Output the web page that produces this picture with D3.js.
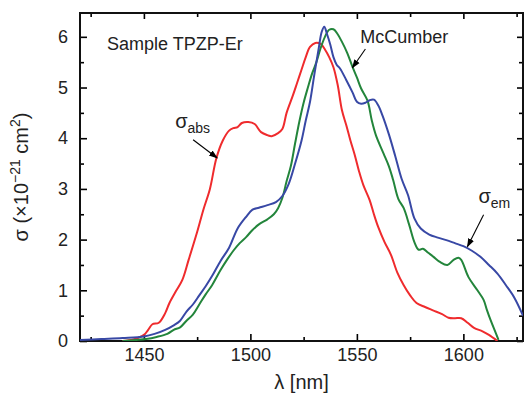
<!DOCTYPE html>
<html>
<head>
<meta charset="utf-8">
<script src="https://cdn.jsdelivr.net/npm/d3@7"></script>
<style>
  body { margin: 0; background: #fff; }
  text { font-family: "Liberation Sans", Arial, sans-serif; }
</style>
</head>
<body>
<svg id="chart" width="524" height="395"></svg>
<script>
// absorption cross-section (red)
var absX = [1440,1445,1450,1452,1454,1457,1460,1462,1465,1468,1471,1475,1478,1481,1484,1487,1490,1492,1494,1496,1499,1502,1505,1508,1510,1513,1515,1517,1520,1522,1524,1526,1528,1530.5,1533,1535,1537,1539,1541,1543,1545,1547,1549,1551,1553,1556,1558,1560,1563,1566,1569,1572,1575,1578,1582,1586,1590,1593,1596,1599,1602,1605,1609,1612,1616];
var absY = [0,0.03,0.12,0.22,0.33,0.36,0.55,0.75,0.98,1.2,1.6,2.15,2.6,3.0,3.6,3.95,4.15,4.2,4.22,4.3,4.32,4.28,4.12,4.06,4.04,4.1,4.18,4.5,4.85,5.1,5.35,5.6,5.8,5.88,5.86,5.75,5.6,5.4,5.05,4.55,4.26,3.95,3.67,3.35,3.08,2.78,2.5,2.25,1.95,1.7,1.35,1.1,0.9,0.75,0.67,0.6,0.53,0.46,0.45,0.45,0.36,0.26,0.19,0.12,0];

// McCumber (green)
var mcX = [1440,1446,1451,1456,1461,1464,1467,1470,1473,1476,1479,1482,1486,1489,1492,1495,1498,1501,1504,1508,1511,1513,1515,1517,1519,1521,1523,1525,1527,1529,1531,1533,1535,1537,1539,1541,1543,1545.5,1548,1550,1552,1555,1557,1559,1562.5,1565,1567,1569.5,1572,1574.5,1577,1579,1581,1583.5,1586,1589,1592.5,1595.4,1597.7,1599,1602.4,1606.6,1609.5,1611,1612.8,1615,1616.5];
var mcY = [0,0.02,0.04,0.08,0.14,0.22,0.27,0.4,0.52,0.72,0.92,1.1,1.4,1.6,1.78,1.93,2.05,2.19,2.3,2.4,2.5,2.62,2.82,3.15,3.45,3.9,4.33,4.7,5.0,5.28,5.5,5.78,6.0,6.14,6.15,6.05,5.9,5.68,5.4,5.2,4.98,4.74,4.35,4.05,3.7,3.45,3.18,2.8,2.62,2.3,1.95,1.8,1.82,1.74,1.66,1.56,1.5,1.6,1.64,1.6,1.26,1.0,0.81,0.62,0.41,0.18,0.02];

// emission cross-section (blue)
var emX = [1420,1430,1440,1450,1455,1460,1464,1467,1470,1473,1476,1479,1482,1486,1490,1494,1498,1501,1504,1508,1512,1515,1518,1521,1524,1526,1528,1530,1532,1533.5,1534.7,1536,1537.5,1539,1540.5,1542,1545,1548,1550,1552,1554,1556,1558,1560,1562,1565,1568,1571,1574,1577,1580,1584,1588,1592,1596,1600,1604,1608,1612,1616,1620,1624,1628];
var emY = [0.02,0.04,0.06,0.09,0.14,0.22,0.31,0.4,0.58,0.72,0.9,1.08,1.28,1.58,1.84,2.22,2.45,2.59,2.63,2.68,2.74,2.86,3.1,3.5,3.95,4.35,4.72,5.25,5.75,6.1,6.2,6.05,5.85,5.6,5.45,5.38,5.15,4.9,4.72,4.68,4.7,4.75,4.76,4.65,4.45,4.08,3.65,3.2,2.88,2.42,2.22,2.1,2.04,1.99,1.93,1.87,1.78,1.66,1.5,1.33,1.1,0.85,0.5];

var xTicks = [1450, 1500, 1550, 1600];
var yTicks = [0, 1, 2, 3, 4, 5, 6];

var svg = d3.select("#chart"),
    margin = {top: 13, right: 1, bottom: 54, left: 80},
    width = +svg.attr("width") - margin.left - margin.right,
    height = +svg.attr("height") - margin.top - margin.bottom,
    g = svg.append("g").attr("transform", "translate(" + margin.left + "," + margin.top + ")");

var x = d3.scaleLinear().domain([1420, 1628]).range([0, width]);
var y = d3.scaleLinear().domain([0, 6.47]).range([height, 0]);

var xMinor = d3.range(1425, 1628, 50);
var yMinor = d3.range(0.5, 6.5, 1);

function axisStyle(sel) {
  sel.select(".domain").remove();
  sel.selectAll("line").attr("stroke", "#000").attr("stroke-width", 1.6);
  sel.selectAll("text").attr("fill", "#222").style("font-size", "18px");
}

// bottom
g.append("g").attr("transform", "translate(0," + height + ")")
  .call(d3.axisBottom(x).tickValues(xTicks).tickFormat(d3.format("d")).tickSize(-7).tickPadding(7))
  .call(axisStyle);
g.append("g").attr("transform", "translate(0," + height + ")")
  .call(d3.axisBottom(x).tickValues(xMinor).tickFormat("").tickSize(-4))
  .call(axisStyle);
// top
g.append("g")
  .call(d3.axisTop(x).tickValues(xTicks).tickFormat("").tickSize(-6))
  .call(axisStyle);
g.append("g")
  .call(d3.axisTop(x).tickValues(xMinor).tickFormat("").tickSize(-4))
  .call(axisStyle);
// left
g.append("g")
  .call(d3.axisLeft(y).tickValues(yTicks).tickFormat(d3.format("d")).tickSize(-7).tickPadding(12))
  .call(axisStyle);
g.append("g")
  .call(d3.axisLeft(y).tickValues(yMinor).tickFormat("").tickSize(-4))
  .call(axisStyle);
// right
g.append("g").attr("transform", "translate(" + width + ",0)")
  .call(d3.axisRight(y).tickValues(yTicks).tickFormat("").tickSize(-6))
  .call(axisStyle);
g.append("g").attr("transform", "translate(" + width + ",0)")
  .call(d3.axisRight(y).tickValues(yMinor).tickFormat("").tickSize(-4))
  .call(axisStyle);

// frame
g.append("rect")
  .attr("width", width).attr("height", height)
  .attr("fill", "none").attr("stroke", "#111").attr("stroke-width", 2);

var line = d3.line()
  .curve(d3.curveCatmullRom.alpha(0.5))
  .x(function(d) { return x(d[0]); })
  .y(function(d) { return y(d[1]); });

var series = [
  {xs: absX, ys: absY, color: "#ef2b2d"},
  {xs: mcX, ys: mcY, color: "#23853b"},
  {xs: emX, ys: emY, color: "#3848a5"}
];

g.append("defs").append("clipPath").attr("id", "clip")
  .append("rect").attr("width", width).attr("height", height);

g.selectAll(".curve")
  .data(series)
  .enter().append("path")
  .attr("class", "curve")
  .attr("clip-path", "url(#clip)")
  .attr("fill", "none")
  .attr("stroke", function(d) { return d.color; })
  .attr("stroke-width", 2)
  .attr("stroke-linejoin", "round")
  .attr("d", function(d) { return line(d.xs.map(function(v, i) { return [v, d.ys[i]]; })); });

// arrows
svg.append("defs").append("marker")
  .attr("id", "head")
  .attr("viewBox", "0 0 10 10")
  .attr("refX", 9).attr("refY", 5)
  .attr("markerWidth", 9).attr("markerHeight", 9)
  .attr("markerUnits", "userSpaceOnUse")
  .attr("orient", "auto")
  .append("path").attr("d", "M0,1.5 L10,5 L0,8.5 z").attr("fill", "#000");

var arrows = [
  [1473.1, 3.97, 1484.4, 3.61],
  [1554.0, 5.76, 1547.9, 5.39],
  [1609.5, 2.49, 1601.9, 1.86]
];
g.selectAll(".arrow")
  .data(arrows)
  .enter().append("line")
  .attr("class", "arrow")
  .attr("x1", function(d) { return x(d[0]); })
  .attr("y1", function(d) { return y(d[1]); })
  .attr("x2", function(d) { return x(d[2]); })
  .attr("y2", function(d) { return y(d[3]); })
  .attr("stroke", "#000").attr("stroke-width", 1.1)
  .attr("marker-end", "url(#head)");

// labels
g.append("text")
  .attr("x", x(1432.7)).attr("y", y(5.75))
  .style("font-size", "18px").attr("fill", "#222")
  .text("Sample TPZP-Er");

g.append("text")
  .attr("x", x(1551.6)).attr("y", y(5.88))
  .style("font-size", "18px").attr("fill", "#222")
  .text("McCumber");

var sAbs = g.append("text")
  .attr("x", x(1464.7)).attr("y", y(4.2))
  .style("font-size", "20px").attr("fill", "#222");
sAbs.append("tspan").text("σ");
sAbs.append("tspan").attr("dy", 5).style("font-size", "14px").text("abs");

var sEm = g.append("text")
  .attr("x", x(1607.1)).attr("y", y(2.72))
  .style("font-size", "20px").attr("fill", "#222");
sEm.append("tspan").text("σ");
sEm.append("tspan").attr("dy", 5).style("font-size", "14px").text("em");

// axis titles
svg.append("text")
  .attr("x", margin.left + width / 2).attr("y", 389)
  .attr("text-anchor", "middle")
  .style("font-size", "20px").attr("fill", "#222")
  .text("λ [nm]");

var yl = svg.append("text")
  .attr("transform", "translate(28," + (margin.top + height / 2) + ") rotate(-90)")
  .attr("text-anchor", "middle")
  .style("font-size", "20px").attr("fill", "#222");
yl.append("tspan").text("σ (×10");
yl.append("tspan").attr("dy", -8).style("font-size", "14px").text("−21");
yl.append("tspan").attr("dy", 8).text(" cm");
yl.append("tspan").attr("dy", -8).style("font-size", "14px").text("2");
yl.append("tspan").attr("dy", 8).text(")");
</script>
</body>
</html>
